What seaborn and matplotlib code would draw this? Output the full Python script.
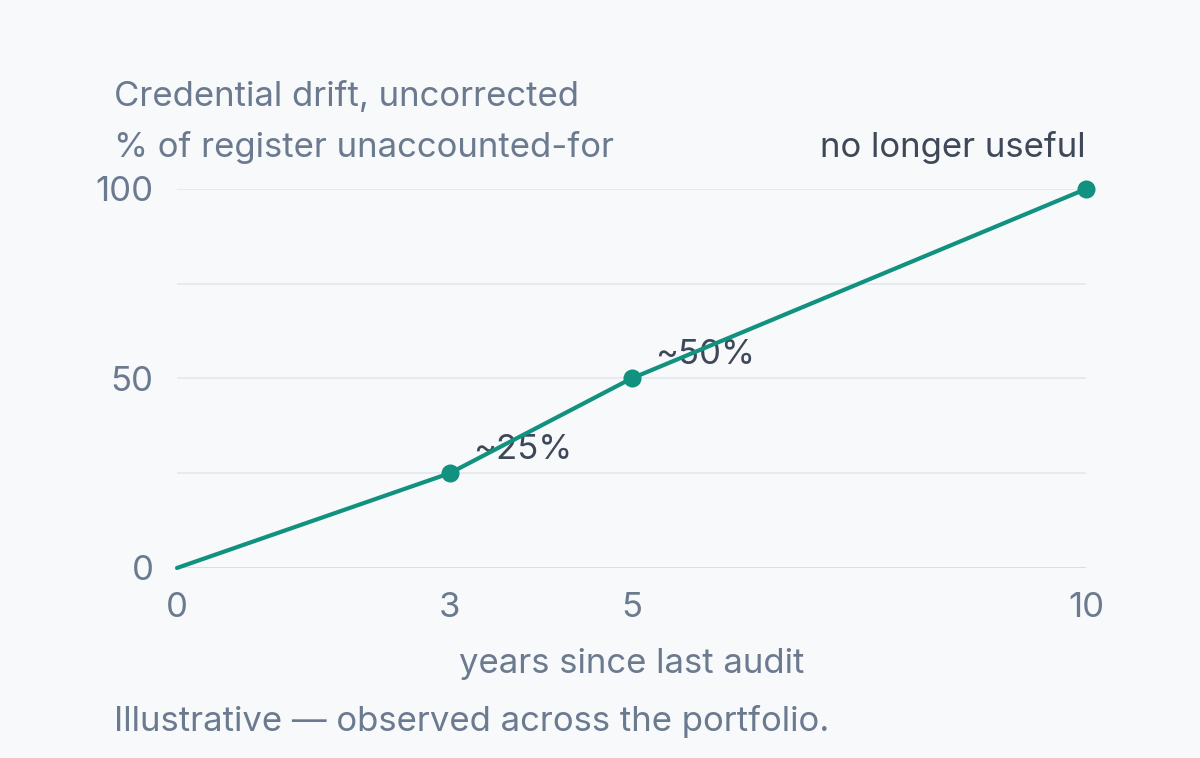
import seaborn as sns
import matplotlib.pyplot as plt
import pandas as pd

# values
years = [0, 3, 5, 10]
drift = [0, 25, 50, 100]
marked_years = [3, 5, 10]
marked_drift = [25, 50, 100]
labels = {3: "~25%", 5: "~50%"}
xticks = [0, 3, 5, 10]
yticks = [0, 50, 100]

bg = "#f7f9fb"
teal = "#11917f"
muted = "#6b7a8f"
dark = "#3e4858"

sns.set_theme(style="white")
plt.rcParams["font.family"] = ["Inter", "DejaVu Sans"]

fig = plt.figure(figsize=(12, 7.58), dpi=100, facecolor=bg)
ax = fig.add_axes([0.1475, 0.2507, 0.7575, 0.5])
ax.set_facecolor(bg)

df = pd.DataFrame({"years": years, "drift": drift})
pts = pd.DataFrame({"years": marked_years, "drift": marked_drift})

for y in [0, 25, 50, 75, 100]:
    ax.axhline(y, color="#e4e9ee" if y else "#d3d9e0", lw=1.2, zorder=0)

sns.lineplot(data=df, x="years", y="drift", color=teal, lw=3, ax=ax,
             clip_on=False, zorder=3)
ax.plot(pts["years"], pts["drift"], "o", color=teal, ms=13, clip_on=False,
        zorder=4, mec="none")

for x, txt in labels.items():
    ax.annotate(txt, (x, drift[years.index(x)]), xytext=(17, 17),
                textcoords="offset points", ha="left", va="center",
                fontsize=25, color=dark, zorder=2)

ax.set_xlim(0, 10)
ax.set_ylim(0, 100)
ax.set_xticks(xticks)
ax.set_yticks(yticks)
ax.tick_params(axis="both", length=0, labelsize=25, labelcolor=muted)
ax.tick_params(axis="x", pad=17)
ax.tick_params(axis="y", pad=17)
sns.despine(ax=ax, left=True, bottom=True)
ax.set_xlabel("")
ax.set_ylabel("")

fig.text(0.095, 0.872, "Credential drift, uncorrected", fontsize=25,
         color=muted, va="center")
fig.text(0.095, 0.806, "% of register unaccounted-for", fontsize=25,
         color=muted, va="center")
fig.text(0.905, 0.806, "no longer useful", fontsize=25, color=dark,
         ha="right", va="center")
fig.text(0.5263, 0.124, "years since last audit", fontsize=25, color=muted,
         ha="center", va="center")
fig.text(0.095, 0.048, "Illustrative \u2014 observed across the portfolio.",
         fontsize=25, color=muted, va="center")

fig.savefig("out.png", dpi=100, facecolor=bg)
